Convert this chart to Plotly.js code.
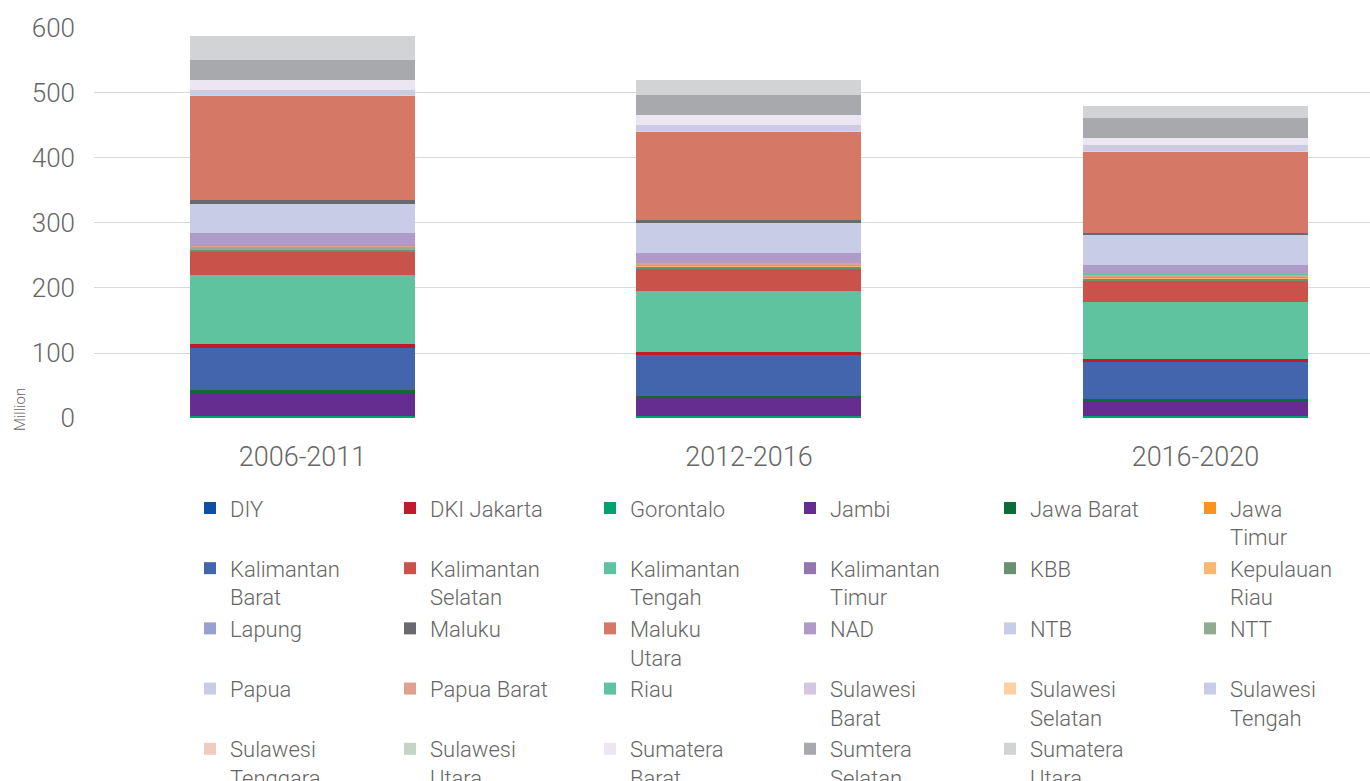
<!DOCTYPE html>
<html>
<head>
<meta charset="utf-8">
<script src="https://cdn.plot.ly/plotly-3.0.1.min.js"></script>
<style>html,body{margin:0;padding:0;background:#fff;}#chart{width:1370px;height:781px;}</style>
</head>
<body>
<div id="chart"></div>
<script>
// ---- Data (million) ----
const periods = ['2006-2011', '2012-2016', '2016-2020'];
const yTickValues = [0, 100, 200, 300, 400, 500, 600];

const diy               = [1.5, 1.2, 1.0];
const gorontalo         = [1.3, 2.6, 2.6];
const jambi             = [36.0, 28.8, 23.1];
const jawaBarat         = [4.0, 2.0, 3.1];
const kalimantanBarat   = [64.7, 61.6, 57.0];
const dkiJakarta        = [6.0, 5.6, 4.6];
const kalimantanTengah  = [107.0, 94.0, 87.8];
const kalimantanSelatan = [36.0, 33.4, 32.4];
const kbb               = [2.0, 3.5, 3.0];
const kepulauanRiau     = [1.3, 1.8, 1.8];
const jawaTimur         = [0.3, 0.2, 0.2];
const ntt               = [1.5, 0.5, 0.5];
const lapung            = [1.5, 0.5, 0.5];
const kalimantanTimur   = [0.5, 0.5, 0.5];
const papuaBarat        = [1.5, 2.5, 2.5];
const riau              = [0.3, 0.3, 0.3];
const nad               = [18.5, 15.4, 13.9];
const ntb               = [46.0, 46.2, 46.2];
const maluku            = [6.0, 4.6, 3.1];
const malukuUtara       = [159.5, 135.6, 125.9];
const sulawesiSelatan   = [1.5, 0.5, 1.5];
const sulawesiTengah    = [6.0, 7.5, 6.5];
const papua             = [0.5, 0.5, 0.5];
const sulawesiTenggara  = [0.3, 0.3, 0.3];
const sulawesiUtara     = [0.3, 0.3, 0.3];
const sulawesiBarat     = [1.0, 0.5, 0.5];
const sumateraBarat     = [15.4, 15.4, 10.8];
const sumteraSelatan    = [30.8, 30.8, 30.8];
const sumateraUtara     = [37.0, 23.1, 18.5];

// legend order (row by row, as in the reference)
const legendOrder = ['DIY', 'DKI Jakarta', 'Gorontalo', 'Jambi', 'Jawa Barat', 'Jawa Timur',
  'Kalimantan Barat', 'Kalimantan Selatan', 'Kalimantan Tengah', 'Kalimantan Timur', 'KBB', 'Kepulauan Riau',
  'Lapung', 'Maluku', 'Maluku Utara', 'NAD', 'NTB', 'NTT',
  'Papua', 'Papua Barat', 'Riau', 'Sulawesi Barat', 'Sulawesi Selatan', 'Sulawesi Tengah',
  'Sulawesi Tenggara', 'Sulawesi Utara', 'Sumatera Barat', 'Sumtera Selatan', 'Sumatera Utara'];

// stacking order, bottom to top
const stack = [
  ['DIY', diy], ['Gorontalo', gorontalo], ['Jambi', jambi], ['Jawa Barat', jawaBarat],
  ['Kalimantan Barat', kalimantanBarat], ['DKI Jakarta', dkiJakarta],
  ['Kalimantan Tengah', kalimantanTengah], ['Kalimantan Selatan', kalimantanSelatan], ['KBB', kbb],
  ['Kepulauan Riau', kepulauanRiau], ['Jawa Timur', jawaTimur], ['NTT', ntt], ['Lapung', lapung],
  ['Kalimantan Timur', kalimantanTimur], ['Papua Barat', papuaBarat], ['Riau', riau], ['NAD', nad],
  ['NTB', ntb], ['Maluku', maluku], ['Maluku Utara', malukuUtara], ['Sulawesi Selatan', sulawesiSelatan],
  ['Sulawesi Tengah', sulawesiTengah], ['Papua', papua], ['Sulawesi Tenggara', sulawesiTenggara],
  ['Sulawesi Utara', sulawesiUtara], ['Sulawesi Barat', sulawesiBarat], ['Sumatera Barat', sumateraBarat],
  ['Sumtera Selatan', sumteraSelatan], ['Sumatera Utara', sumateraUtara]
];

// ---- Styles ----
const colors = {
  'DIY': '#0d4fa0', 'DKI Jakarta': '#c01a2c', 'Gorontalo': '#00a36c', 'Jambi': '#662d91',
  'Jawa Barat': '#0d6b3a', 'Jawa Timur': '#f7931e', 'Kalimantan Barat': '#4365ae',
  'Kalimantan Selatan': '#c9534a', 'Kalimantan Tengah': '#60c3a0', 'Kalimantan Timur': '#9376b0',
  'KBB': '#6a9270', 'Kepulauan Riau': '#f8b870', 'Lapung': '#98a0d0', 'Maluku': '#6a6a6e',
  'Maluku Utara': '#d67866', 'NAD': '#b09ac8', 'NTB': '#c8cce6', 'NTT': '#92aa92',
  'Papua': '#c8cce6', 'Papua Barat': '#e0a090', 'Riau': '#60c3a0', 'Sulawesi Barat': '#d4c8e0',
  'Sulawesi Selatan': '#fdd0a0', 'Sulawesi Tengah': '#c8cce6', 'Sulawesi Tenggara': '#f0ccc0',
  'Sulawesi Utara': '#c4d4c8', 'Sumatera Barat': '#ece6f2', 'Sumtera Selatan': '#a8a9ad',
  'Sumatera Utara': '#d2d3d5'
};
const legendLabels = {
  'Jawa Timur': 'Jawa<br>Timur', 'Kalimantan Barat': 'Kalimantan<br>Barat',
  'Kalimantan Selatan': 'Kalimantan<br>Selatan', 'Kalimantan Tengah': 'Kalimantan<br>Tengah',
  'Kalimantan Timur': 'Kalimantan<br>Timur', 'Kepulauan Riau': 'Kepulauan<br>Riau',
  'Maluku Utara': 'Maluku<br>Utara', 'Sulawesi Barat': 'Sulawesi<br>Barat',
  'Sulawesi Selatan': 'Sulawesi<br>Selatan', 'Sulawesi Tengah': 'Sulawesi<br>Tengah',
  'Sulawesi Tenggara': 'Sulawesi<br>Tenggara', 'Sulawesi Utara': 'Sulawesi<br>Utara',
  'Sumatera Barat': 'Sumatera<br>Barat', 'Sumtera Selatan': 'Sumtera<br>Selatan',
  'Sumatera Utara': 'Sumatera<br>Utara'
};

const FONT = 'Roboto, "Liberation Sans", sans-serif';
const TXT = '#666666';

const traces = stack.map(([name, vals]) => ({
  type: 'bar',
  name: legendLabels[name] || name,
  x: [0, 1, 2],
  y: vals,
  width: 0.504,
  marker: { color: colors[name], line: { width: 0 } },
  legendrank: legendOrder.indexOf(name) + 1,
  hovertemplate: name + ': %{y}<extra></extra>'
}));

const layout = {
  width: 1370, height: 781,
  paper_bgcolor: '#ffffff', plot_bgcolor: '#ffffff',
  margin: { l: 94, r: 0, t: 27, b: 363, autoexpand: false },
  barmode: 'stack',
  bargap: 0,
  font: { family: FONT, color: TXT, size: 22, weight: 300 },
  xaxis: {
    range: [-0.467, 2.391],
    tickmode: 'array', tickvals: [0, 1, 2], ticktext: periods,
    showgrid: false, zeroline: false, showline: false, ticks: '',
    tickfont: { family: FONT, size: 27, color: TXT, weight: 300 },
    ticklabelstandoff: 20
  },
  yaxis: {
    range: [0, 601.5],
    tickmode: 'array', tickvals: yTickValues,
    showgrid: true, gridcolor: '#d9d9d9', gridwidth: 1.3,
    zeroline: false, showline: false, ticks: '',
    tickfont: { family: FONT, size: 26, color: TXT, weight: 300 },
    ticklabelstandoff: 18
  },
  showlegend: true,
  legend: {
    orientation: 'h',
    x: (190 - 94) / 1276, xanchor: 'left',
    y: (418 - 487) / 390, yanchor: 'top',
    traceorder: 'normal',
    entrywidth: 155, entrywidthmode: 'pixels',
    valign: 'top',
    font: { family: FONT, size: 22, color: TXT, weight: 300 },
    bgcolor: 'rgba(0,0,0,0)', borderwidth: 0
  },
  annotations: [{
    text: 'Million', xref: 'paper', yref: 'paper',
    x: (20 - 94) / 1276, y: (418 - 410) / 390,
    xanchor: 'center', yanchor: 'middle', textangle: -90, showarrow: false,
    font: { family: FONT, size: 15, color: TXT, weight: 300 }
  }]
};

Plotly.newPlot('chart', traces, layout, { displayModeBar: false, responsive: false });
</script>
</body>
</html>
